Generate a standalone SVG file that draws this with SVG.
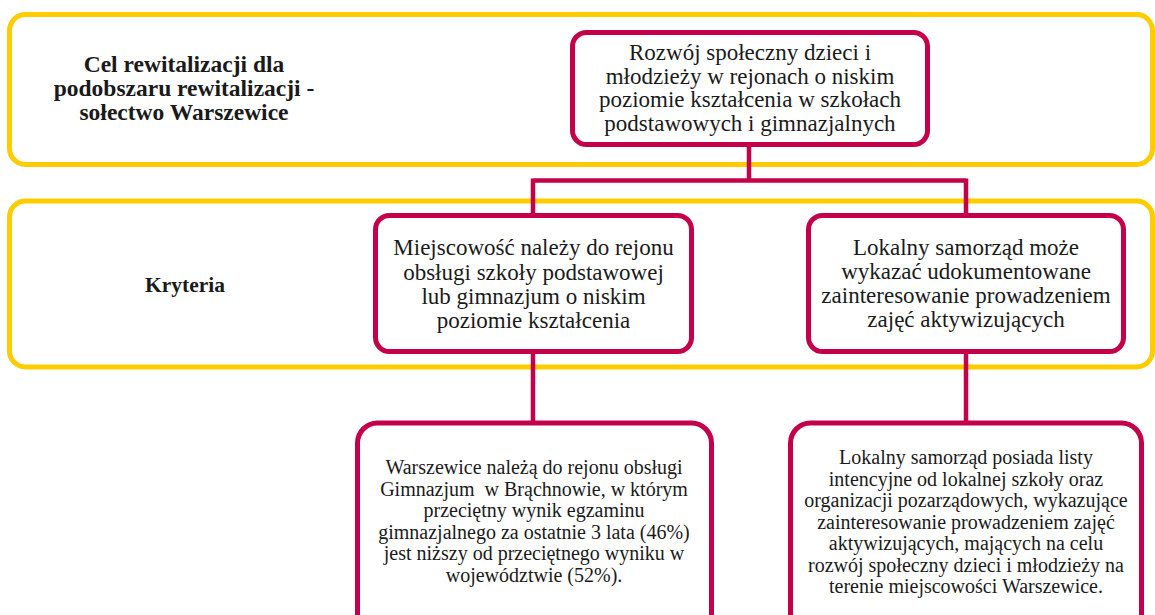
<svg xmlns="http://www.w3.org/2000/svg" width="1155" height="615" viewBox="0 0 1155 615">
<style>
.band{fill:none;stroke:#FFCC00;stroke-width:5}
.node{fill:#FFFFFF;stroke:#C5004B;stroke-width:5}
.conn{fill:none;stroke:#C5004B;stroke-width:4.5}
.t{font-family:"Liberation Serif","Times New Roman",serif;fill:#1A1A1A;text-anchor:middle;white-space:pre}
.t22{font-size:23px}
.t20{font-size:20px}
.b{font-weight:bold;font-size:23.5px}
.k{font-weight:bold;font-size:21.5px}
</style>
<rect width="1155" height="615" fill="#FFFFFF"/>
<g id="band-cel">
<rect class="band" x="9.5" y="14.5" width="1143" height="150" rx="16"/>
<text class="t b" x="184" y="72">Cel rewitalizacji dla</text>
<text class="t b" x="184" y="96">podobszaru rewitalizacji -</text>
<text class="t b" x="184" y="120">sołectwo Warszewice</text>
</g>
<g id="band-kryteria">
<rect class="band" x="9.5" y="201" width="1143" height="166" rx="16"/>
<text class="t k" x="185" y="292">Kryteria</text>
</g>
<g id="connectors">
<path class="conn" d="M749 145 V180.5 M533 180.5 H966 M533 178.5 V216 M966 178.5 V216"/>
<path class="conn" d="M533 352 V423"/>
<path class="conn" d="M966 352 V423"/>
</g>
<g id="node-cel">
<rect class="node" x="572.5" y="32.5" width="355" height="112" rx="14"/>
<text class="t t22" x="750" y="60">Rozwój społeczny dzieci i</text>
<text class="t t22" x="750" y="83.5">młodzieży w rejonach o niskim</text>
<text class="t t22" x="750" y="107">poziomie kształcenia w szkołach</text>
<text class="t t22" x="750" y="130.5">podstawowych i gimnazjalnych</text>
</g>
<g id="node-kryterium-1">
<rect class="node" x="375.5" y="215.5" width="316" height="136" rx="14"/>
<text class="t t22" x="533.5" y="255">Miejscowość należy do rejonu</text>
<text class="t t22" x="533.5" y="279.5">obsługi szkoły podstawowej</text>
<text class="t t22" x="533.5" y="303.5">lub gimnazjum o niskim</text>
<text class="t t22" x="533.5" y="327.5">poziomie kształcenia</text>
</g>
<g id="node-kryterium-2">
<rect class="node" x="808.5" y="215.5" width="315" height="136" rx="14"/>
<text class="t t22" x="966" y="255">Lokalny samorząd może</text>
<text class="t t22" x="966" y="279">wykazać udokumentowane</text>
<text class="t t22" x="966" y="303">zainteresowanie prowadzeniem</text>
<text class="t t22" x="966" y="327">zajęć aktywizujących</text>
</g>
<g id="node-opis-1">
<rect class="node" x="357.5" y="423" width="354" height="230" rx="20"/>
<text class="t t20" x="534" y="474">Warszewice należą do rejonu obsługi</text>
<text class="t t20" x="534" y="495.5">Gimnazjum  w Brąchnowie, w którym</text>
<text class="t t20" x="534" y="517">przeciętny wynik egzaminu</text>
<text class="t t20" x="534" y="538.5">gimnazjalnego za ostatnie 3 lata (46%)</text>
<text class="t t20" x="534" y="560">jest niższy od przeciętnego wyniku w</text>
<text class="t t20" x="534" y="581.5">województwie (52%).</text>
</g>
<g id="node-opis-2">
<rect class="node" x="790.5" y="423" width="351" height="230" rx="20"/>
<text class="t t20" x="966" y="464">Lokalny samorząd posiada listy</text>
<text class="t t20" x="966" y="485.5">intencyjne od lokalnej szkoły oraz</text>
<text class="t t20" x="966" y="507">organizacji pozarządowych, wykazujące</text>
<text class="t t20" x="966" y="528.5">zainteresowanie prowadzeniem zajęć</text>
<text class="t t20" x="966" y="550">aktywizujących, mających na celu</text>
<text class="t t20" x="966" y="571.5">rozwój społeczny dzieci i młodzieży na</text>
<text class="t t20" x="966" y="593">terenie miejscowości Warszewice.</text>
</g>
</svg>
